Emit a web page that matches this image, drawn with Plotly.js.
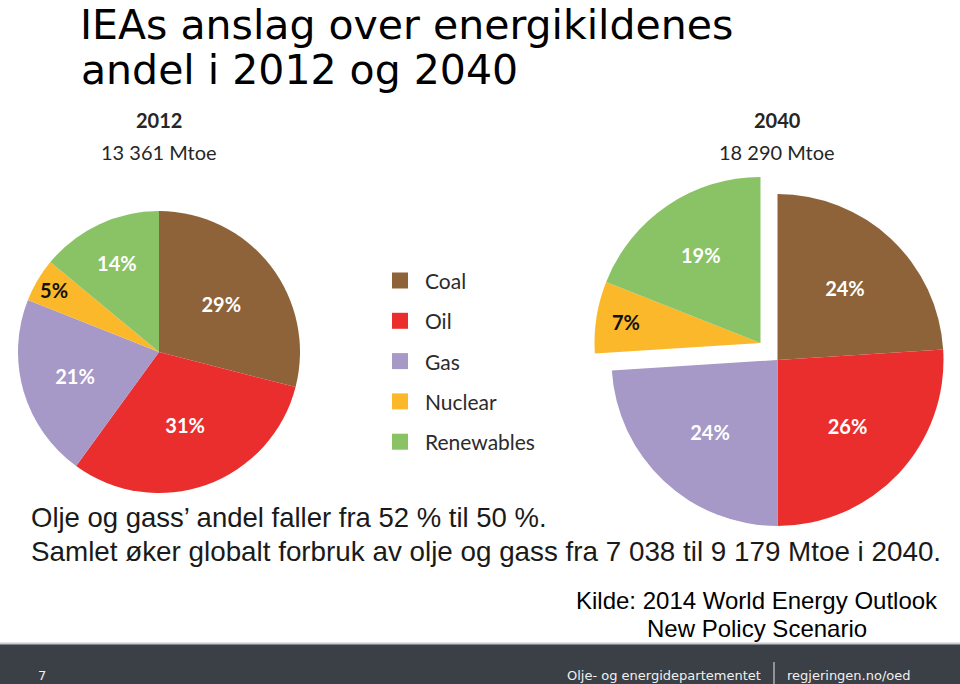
<!DOCTYPE html>
<html>
<head>
<meta charset="utf-8">
<script src="https://cdn.plot.ly/plotly-3.0.1.min.js"></script>
<style>
  html, body { margin: 0; padding: 0; background: #ffffff; }
  #chart { width: 960px; height: 684px; }
</style>
</head>
<body>
<div id="chart"></div>
<script>
// ---- data ----
var categories = ['Coal', 'Oil', 'Gas', 'Nuclear', 'Renewables'];
var colors = ['#8E6339', '#EA2E2E', '#A698C7', '#FBB82A', '#89C365'];
var labelColors = ['#ffffff', '#ffffff', '#ffffff', '#111111', '#ffffff'];
var share2012 = [29, 31, 21, 5, 14];
var share2040 = [24, 26, 24, 7, 19];
var years = ['2012', '2040'];
var totals = ['13 361 Mtoe', '18 290 Mtoe'];
var titleLines = ['IEAs anslag over energikildenes', 'andel i 2012 og 2040'];
// 2040: Nuclear + Renewables are pulled out of the pie together
var pulledOut2040 = ['Nuclear', 'Renewables'];

var W = 960, H = 684;
function px(x) { return x / W; }
function py(y) { return 1 - y / H; }
function dom(cx, cy, r) { return { x: [px(cx - r), px(cx + r)], y: [py(cy + r), py(cy - r)] }; }

var pieFont = { family: 'Lato, "Open Sans", sans-serif', size: 20, color: labelColors, weight: 'bold' };

function maskedColors(keep) {
  return categories.map(function (c, i) { return keep(c) ? colors[i] : 'rgba(0,0,0,0)'; });
}
function maskedText(vals, keep) {
  return categories.map(function (c, i) { return keep(c) ? vals[i] + '%' : ''; });
}

var common = {
  type: 'pie', labels: categories, sort: false, direction: 'clockwise', rotation: 0,
  textinfo: 'text', textposition: 'inside', insidetextorientation: 'horizontal',
  hoverinfo: 'label+percent', showlegend: false
};

var t2012 = Object.assign({}, common, {
  values: share2012,
  text: share2012.map(function (v) { return v + '%'; }),
  marker: { colors: colors, line: { width: 0 } },
  textfont: pieFont,
  domain: dom(159, 352, 141)
});

var inMain = function (c) { return pulledOut2040.indexOf(c) < 0; };
var inPulled = function (c) { return pulledOut2040.indexOf(c) >= 0; };

var t2040main = Object.assign({}, common, {
  values: share2040,
  text: maskedText(share2040, inMain),
  marker: { colors: maskedColors(inMain), line: { width: 0 } },
  textfont: pieFont,
  domain: dom(777.5, 360, 166)
});

var t2040pulled = Object.assign({}, common, {
  values: share2040,
  text: maskedText(share2040, inPulled),
  marker: { colors: maskedColors(inPulled), line: { width: 0 } },
  textfont: pieFont,
  domain: dom(760.5, 343, 166)
});

var calibri = 'Lato, "Open Sans", sans-serif';
var arial = '"Liberation Sans", Arial, sans-serif';
var verdana = '"DejaVu Sans", Verdana, sans-serif';

var annotations = [];
var shapes = [];

// second title line
annotations.push({ text: titleLines[1], x: px(79), y: py(70), xref: 'paper', yref: 'paper', showarrow: false,
  xanchor: 'left', yanchor: 'middle', font: { family: verdana, size: 41, color: '#000000' } });

// pie headers
var headerX = [159, 777];
years.forEach(function (y, i) {
  annotations.push({ text: '<b>' + y + '</b>', x: px(headerX[i]), y: py(120), xref: 'paper', yref: 'paper',
    showarrow: false, xanchor: 'center', yanchor: 'middle', font: { family: calibri, size: 20, color: '#262626' } });
  annotations.push({ text: totals[i], x: px(headerX[i]), y: py(152), xref: 'paper', yref: 'paper',
    showarrow: false, xanchor: 'center', yanchor: 'middle', font: { family: calibri, size: 20, color: '#262626' } });
});

// legend (manual, larger spacing than plotly's native)
categories.forEach(function (c, i) {
  var cy = 280.5 + i * 40.3;
  shapes.push({ type: 'rect', xref: 'paper', yref: 'paper', x0: px(392), x1: px(408), y0: py(cy + 8), y1: py(cy - 8),
    fillcolor: colors[i], line: { width: 0 } });
  annotations.push({ text: c, x: px(423), y: py(cy), xref: 'paper', yref: 'paper', showarrow: false,
    xanchor: 'left', yanchor: 'middle', font: { family: calibri, size: 21, color: '#2b2b2b' } });
});

// body text
annotations.push({ text: 'Olje og gass\u2019 andel faller fra 52 % til 50 %.', x: px(29), y: py(517), xref: 'paper', yref: 'paper',
  showarrow: false, xanchor: 'left', yanchor: 'middle', font: { family: arial, size: 27.5, color: '#1a1a1a' } });
annotations.push({ text: 'Samlet øker globalt forbruk av olje og gass fra 7 038 til 9 179 Mtoe i 2040.', x: px(29), y: py(551), xref: 'paper', yref: 'paper',
  showarrow: false, xanchor: 'left', yanchor: 'middle', font: { family: arial, size: 27.8, color: '#1a1a1a' } });
annotations.push({ text: 'Kilde: 2014 World Energy Outlook', x: px(940), y: py(600), xref: 'paper', yref: 'paper',
  showarrow: false, xanchor: 'right', yanchor: 'middle', font: { family: arial, size: 24, color: '#000000' } });
annotations.push({ text: 'New Policy Scenario', x: px(757), y: py(628), xref: 'paper', yref: 'paper',
  showarrow: false, xanchor: 'center', yanchor: 'middle', font: { family: arial, size: 24, color: '#000000' } });

// footer bar
shapes.push({ type: 'rect', xref: 'paper', yref: 'paper', x0: 0, x1: 1, y0: 0, y1: py(644), fillcolor: '#3B3F46', line: { width: 0 }, layer: 'above' });
shapes.push({ type: 'line', xref: 'paper', yref: 'paper', x0: 0, x1: 1, y0: py(643.5), y1: py(643.5), line: { color: '#c9cbcd', width: 2 }, layer: 'above' });
shapes.push({ type: 'line', xref: 'paper', yref: 'paper', x0: px(774), x1: px(774), y0: py(684), y1: py(662), line: { color: '#e6e6e6', width: 1 }, layer: 'above' });
annotations.push({ text: '7', x: px(42), y: py(675), xref: 'paper', yref: 'paper', showarrow: false,
  xanchor: 'center', yanchor: 'middle', font: { family: verdana, size: 13, color: '#f0f0f0' } });
annotations.push({ text: 'Olje- og energidepartementet', x: px(763), y: py(675), xref: 'paper', yref: 'paper', showarrow: false,
  xanchor: 'right', yanchor: 'middle', font: { family: verdana, size: 13, color: '#f0f0f0' } });
annotations.push({ text: 'regjeringen.no/oed', x: px(785), y: py(675), xref: 'paper', yref: 'paper', showarrow: false,
  xanchor: 'left', yanchor: 'middle', font: { family: verdana, size: 13, color: '#f0f0f0' } });

var layout = {
  width: W, height: H,
  margin: { l: 0, r: 0, t: 0, b: 0 },
  paper_bgcolor: '#ffffff',
  showlegend: false,
  title: {
    text: titleLines[0],
    xref: 'container', yref: 'container', x: px(80), xanchor: 'left', y: py(25), yanchor: 'middle',
    font: { family: verdana, size: 41, color: '#000000' }
  },
  annotations: annotations,
  shapes: shapes
};

Plotly.newPlot('chart', [t2012, t2040main, t2040pulled], layout, { displayModeBar: false, staticPlot: true });
</script>
</body>
</html>
